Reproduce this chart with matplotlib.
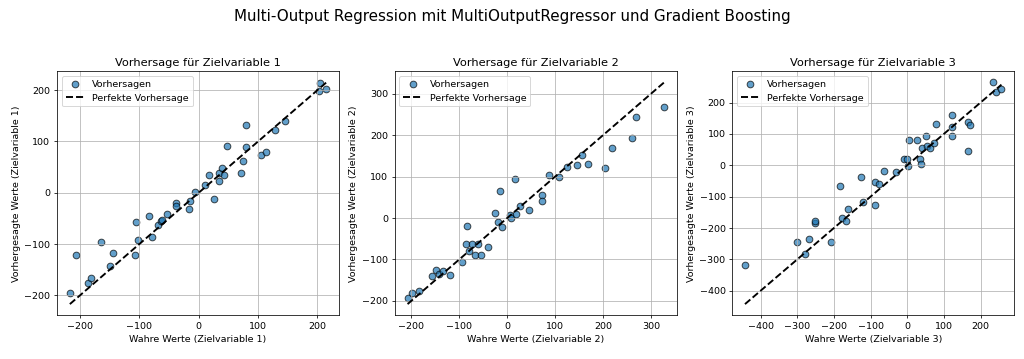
import matplotlib
matplotlib.use("Agg")
import matplotlib.pyplot as plt
import numpy as np

# Zielvariable 1
true_1 = [-217, -206, -186, -182, -165, -144, -149, -108, -106, -103, -84, -78, -68, -64, -61,
          -54, -38, -38, -17, -15, -7, 10, 17, 25, 35, 35, 40, 42, 47, 72, 74, 79, 80, 105,
          114, 129, 146, 202, 204, 215]
pred_1 = [-196, -122, -176, -167, -95, -118, -143, -121, -56, -93, -46, -87, -63, -55, -53,
          -41, -20, -26, -31, -16, 1, 15, 34, -12, 22, 39, 48, 34, 92, 39, 61, 132, 90, 73,
          80, 122, 140, 198, 214, 203]

# Zielvariable 2
true_2 = [-208, -199, -184, -157, -148, -143, -134, -120, -95, -86, -83, -80, -73, -67, -62,
          -55, -41, -25, -20, -15, -10, 5, 7, 16, 19, 27, 45, 73, 73, 88, 108, 124, 145, 155,
          169, 204, 219, 261, 268, 327]
pred_2 = [-193, -181, -176, -140, -125, -135, -129, -137, -106, -64, -20, -79, -62, -89, -62,
          -89, -69, 11, -10, 66, -22, 7, -1, 93, 9, 30, 19, 55, 42, 103, 98, 124, 128, 152,
          129, 120, 168, 192, 243, 268]

# Zielvariable 3
true_3 = [-443, -300, -278, -269, -253, -251, -207, -184, -177, -168, -163, -126, -120, -89,
          -87, -78, -64, -30, -10, 0, 1, 6, 27, 36, 37, 40, 52, 53, 61, 73, 79, 121, 121, 123,
          165, 165, 170, 235, 243, 257]
pred_3 = [-319, -246, -282, -234, -185, -177, -244, -67, -168, -178, -140, -38, -118, -127,
          -52, -59, -18, -21, 19, 19, -2, 81, 81, 20, 3, 54, 92, 62, 54, 71, 131, 94, 159, 123,
          137, 46, 129, 264, 234, 242]

targets = [(true_1, pred_1), (true_2, pred_2), (true_3, pred_3)]

fig = plt.figure(figsize=(15, 5.26))
lefts = [0.0557, 0.3855, 0.7150]
width = 0.2755

for i, (y_true, y_pred) in enumerate(targets):
    ax = fig.add_axes([lefts[i], 0.122, width, 0.679])
    ax.scatter(y_true, y_pred, alpha=0.7, edgecolor="k", s=50, label="Vorhersagen")
    lo, hi = min(y_true), max(y_true)
    ax.plot([lo, hi], [lo, hi], "k--", lw=2, label="Perfekte Vorhersage")
    ax.set_title(f"Vorhersage für Zielvariable {i + 1}")
    ax.set_xlabel(f"Wahre Werte (Zielvariable {i + 1})")
    ax.set_ylabel(f"Vorhergesagte Werte (Zielvariable {i + 1})")
    ax.legend(loc="upper left")
    ax.grid(True)

fig.suptitle("Multi-Output Regression mit MultiOutputRegressor und Gradient Boosting",
             fontsize=16, y=0.975)

plt.savefig("out.png", dpi=1024 / 15)
